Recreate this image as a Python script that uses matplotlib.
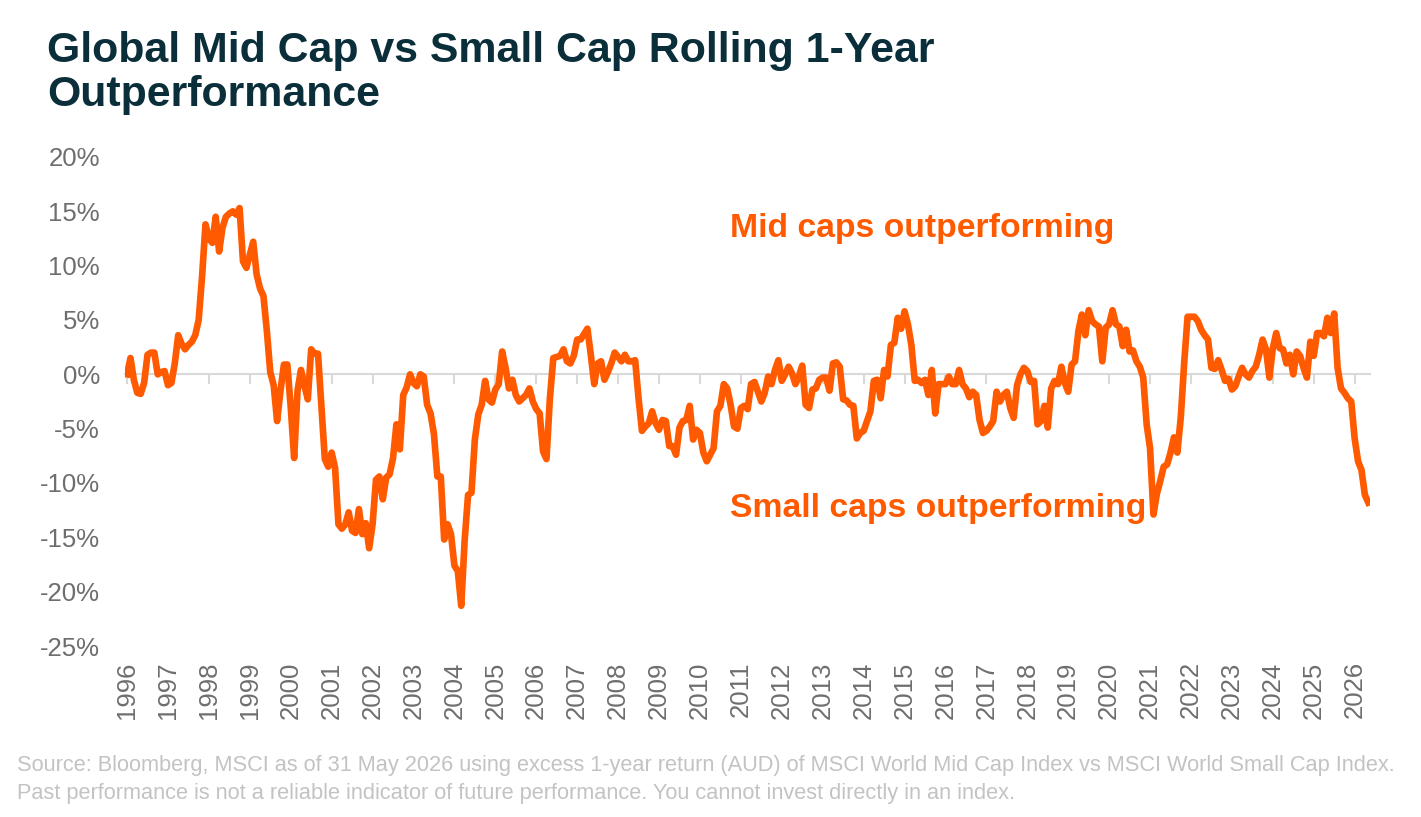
import numpy as np
import matplotlib
matplotlib.use('Agg')
from matplotlib import pyplot as plt

# monthly excess 1-year return, mid cap minus small cap (%), Jan 1996 - May 2026
excess_pct = [
    0.0, 1.5, -0.5, -1.7, -1.8, -0.8, 1.8, 2.0, 2.0, 0.0, 0.2, 0.3,        # 1996
    -1.0, -0.8, 1.0, 3.6, 2.8, 2.3, 2.7, 3.0, 3.6, 5.0, 9.0, 13.8,         # 1997
    12.5, 12.1, 14.5, 11.3, 13.5, 14.5, 14.8, 15.0, 14.7, 15.3, 10.4, 9.8,  # 1998
    11.0, 12.2, 9.2, 7.9, 7.2, 4.0, 0.2, -1.0, -4.3, -1.5, 0.9, 0.9,        # 1999
    -3.0, -7.7, -1.5, 0.4, -1.0, -2.3, 2.3, 1.9, 1.9, -3.0, -7.8, -8.5,     # 2000
    -7.2, -8.6, -13.8, -14.2, -13.8, -12.7, -14.4, -14.6, -12.4, -14.7, -13.7, -16.0,  # 2001
    -13.8, -9.7, -9.4, -11.5, -9.5, -9.2, -7.7, -4.6, -6.9, -1.9, -1.2, 0.0,  # 2002
    -0.8, -1.1, 0.0, -0.2, -2.8, -3.6, -5.5, -9.4, -9.4, -15.2, -13.8, -14.7,  # 2003
    -17.6, -18.1, -21.3, -15.3, -11.1, -10.9, -6.0, -3.7, -2.8, -0.6, -2.3, -2.6,  # 2004
    -1.4, -0.9, 2.1, 0.6, -1.3, -0.5, -1.9, -2.5, -2.2, -1.9, -1.3, -2.5,   # 2005
    -3.2, -3.6, -7.1, -7.8, -2.2, 1.5, 1.6, 1.7, 2.3, 1.2, 1.0, 1.7,        # 2006
    3.2, 3.2, 3.7, 4.2, 1.8, -0.9, 1.0, 1.2, -0.5, 0.2, 1.0, 2.0,           # 2007
    1.6, 1.2, 1.8, 1.2, 1.2, 1.3, -2.2, -5.2, -4.8, -4.5, -3.4, -4.5,       # 2008
    -5.1, -4.2, -4.3, -6.6, -6.6, -7.4, -4.9, -4.3, -4.2, -2.9, -6.0, -5.1,  # 2009
    -5.4, -7.2, -8.0, -7.4, -6.8, -3.4, -2.9, -0.9, -1.3, -2.8, -4.8, -5.0,  # 2010
    -3.1, -2.9, -3.2, -0.9, -0.7, -1.6, -2.5, -1.7, -0.2, -0.9, 0.4, 1.3,   # 2011
    -0.6, 0.0, 0.7, 0.1, -0.9, -0.2, 0.8, -2.8, -3.1, -1.4, -1.3, -0.5,     # 2012
    -0.3, -0.3, -1.5, 1.0, 1.1, 0.7, -2.3, -2.4, -2.8, -2.9, -5.9, -5.4,    # 2013
    -5.2, -4.3, -3.4, -0.6, -0.5, -2.2, 0.4, -0.2, 2.7, 2.9, 5.2, 4.2,      # 2014
    5.8, 4.6, 2.7, -0.6, -0.5, -0.8, -0.5, -1.9, 0.4, -3.6, -0.9, -0.9,     # 2015
    -0.9, -0.2, -0.9, -0.9, 0.4, -0.9, -1.3, -2.1, -1.6, -1.9, -4.2, -5.4,  # 2016
    -5.2, -4.8, -4.3, -1.6, -2.5, -1.9, -1.6, -3.1, -4.0, -1.0, 0.0, 0.6,   # 2017
    0.3, -0.7, -0.6, -4.6, -4.3, -2.9, -4.9, -1.3, -0.6, -0.9, 0.7, -0.8,   # 2018
    -1.6, 0.9, 1.2, 4.0, 5.5, 3.6, 5.9, 4.9, 4.6, 4.4, 1.2, 4.3,            # 2019
    4.6, 5.9, 4.6, 4.4, 2.6, 4.1, 2.1, 2.2, 1.2, 0.7, -0.3, -4.6,           # 2020
    -6.8, -12.9, -11.0, -9.8, -8.5, -8.3, -7.2, -5.8, -7.2, -4.0, 1.0, 5.3,  # 2021
    5.3, 5.3, 4.9, 4.1, 3.6, 3.2, 0.6, 0.5, 1.3, 0.4, -0.6, -0.4,           # 2022
    -1.4, -1.1, -0.2, 0.6, 0.0, -0.3, 0.3, 0.7, 1.8, 3.2, 2.3, -0.3,        # 2023
    2.4, 3.8, 2.4, 2.3, 1.0, 1.8, 0.0, 2.1, 1.7, 0.6, -0.3, 3.0,            # 2024
    1.7, 3.8, 3.8, 3.5, 5.2, 3.8, 5.6, 0.6, -1.3, -1.7, -2.2, -2.5,         # 2025
    -5.9, -8.0, -8.8, -11.1, -11.8,                                         # 2026
]
start_year = 1996
year_labels = [str(y) for y in range(1996, 2027)]
y_ticks = [20, 15, 10, 5, 0, -5, -10, -15, -20, -25]

orange = '#ff5a00'
grey_txt = '#6e6e6e'
axis_grey = '#d9d9d9'
title_col = '#0b2f3a'

plt.rcParams['font.family'] = ['Liberation Sans', 'DejaVu Sans']

W, H = 1421, 817
fig = plt.figure(figsize=(W / 100, H / 100), dpi=100)
ax = fig.add_axes([125 / W, 1 - 646 / H, (1370 - 125) / W, (646 - 157) / H])

months = np.arange(len(excess_pct))
ax.plot(months, excess_pct, color=orange, lw=4.8, solid_joinstyle='round', zorder=3)

ax.set_ylim(-25, 20)
ax.set_xlim(-0.6, 364.5)
ax.set_yticks(y_ticks)
ax.set_yticklabels([f'{t}%' for t in y_ticks])
ax.tick_params(axis='y', length=0, pad=18, labelsize=18.5, labelcolor=grey_txt)

for s in ['top', 'right', 'left']:
    ax.spines[s].set_visible(False)
ax.spines['bottom'].set_position(('data', 0))
ax.spines['bottom'].set_color(axis_grey)
ax.spines['bottom'].set_linewidth(1.5)
year_pos = [12 * i for i in range(len(year_labels))]
ax.set_xticks(year_pos)
ax.tick_params(axis='x', direction='out', length=7, width=1.5, color=axis_grey, labelbottom=False)

sec = ax.secondary_xaxis('bottom')
sec.set_xticks(year_pos)
sec.set_xticklabels(year_labels, rotation=90)
sec.tick_params(length=0, pad=11, labelsize=18.5, labelcolor=grey_txt)
sec.spines['bottom'].set_visible(False)

ax.text(0.486, 0.853, 'Mid caps outperforming', transform=ax.transAxes, color=orange,
        fontsize=24.3, fontweight='bold', ha='left', va='center')
ax.text(0.486, 0.282, 'Small caps outperforming', transform=ax.transAxes, color=orange,
        fontsize=24.3, fontweight='bold', ha='left', va='center')

fig.text(47 / W, 1 - 51 / H, 'Global Mid Cap vs Small Cap Rolling 1-Year', color=title_col,
         fontsize=30.9, fontweight='bold', ha='left', va='center')
fig.text(47 / W, 1 - 95 / H, 'Outperformance', color=title_col,
         fontsize=30.9, fontweight='bold', ha='left', va='center')

fig.text(17 / W, 1 - 765 / H,
         'Source: Bloomberg, MSCI as of 31 May 2026 using excess 1-year return (AUD) of MSCI World Mid Cap Index vs MSCI World Small Cap Index.',
         color='#c3c3c3', fontsize=15.7, ha='left', va='center')
fig.text(17 / W, 1 - 793 / H,
         'Past performance is not a reliable indicator of future performance. You cannot invest directly in an index.',
         color='#c3c3c3', fontsize=15.7, ha='left', va='center')

fig.savefig('out.png', dpi=100, facecolor='white')
